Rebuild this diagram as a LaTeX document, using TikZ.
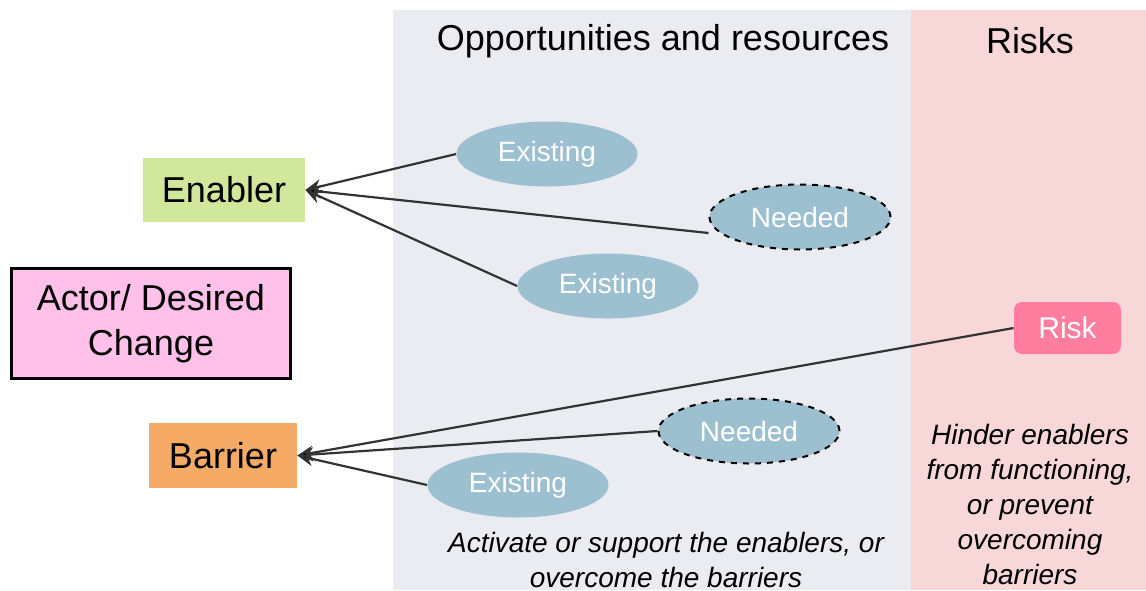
\documentclass[tikz,border=0pt]{standalone}
\usepackage{fontspec}
\setmainfont{Liberation Sans}
\usetikzlibrary{shapes, positioning, arrows, arrows.meta}

\definecolor{oppbg}{HTML}{EBECF1}
\definecolor{riskbg}{HTML}{F7D7D7}
\definecolor{enablerfill}{HTML}{D1E79B}
\definecolor{actorfill}{HTML}{FFC0EA}
\definecolor{barrierfill}{HTML}{F5AA66}
\definecolor{ovalfill}{HTML}{9DC0D1}
\definecolor{riskfill}{HTML}{FF7EA0}
\definecolor{linkgray}{HTML}{333333}

\tikzset{
	box/.style={inner sep=0pt, minimum width=81pt, minimum height=32pt, font=\fontsize{18}{22}\selectfont},
	oval/.style={ellipse, fill=ovalfill, inner sep=0pt, minimum width=90.5pt, minimum height=32.5pt, text=white, font=\fontsize{14}{17}\selectfont},
	needed/.style={oval, draw=black, dashed, line width=1pt},
	link/.style={draw=linkgray, line width=1.1pt, -{Stealth[length=8pt, width=7pt, fill=black]}},
	note/.style={align=center, font=\fontsize{14}{17.5}\selectfont\itshape}
}

\begin{document}
\begin{tikzpicture}[x=0.5pt, y=-0.5pt]
	
	\useasboundingbox (0,0) rectangle (1146,590);
	
	%//columns
	\fill[oppbg] (393,10) rectangle (911,590);
	\fill[riskbg] (911,10) rectangle (1146,590);
	
	\node [font=\fontsize{18}{21}\selectfont] (opptitle) at (663,41) {Opportunities and resources};
	\node [font=\fontsize{18}{21}\selectfont] (risktitle) at (1030,41) {Risks};
	
	%//left side
	\node [box, fill=enablerfill] (enabler) at (224,190) {Enabler};
	\node [box, fill=actorfill, draw=black, line width=1.5pt, minimum width=139.5pt, minimum height=55pt, align=center, font=\fontsize{18}{22.5}\selectfont] (actor) at (151,323.5) {\raisebox{-2pt}{Actor/ Desired}\\\raisebox{-2pt}{Change}};
	\node [box, fill=barrierfill, minimum width=74pt, minimum height=32.5pt] (barrier) at (223,455.5) {Barrier};
	
	%//opportunities
	\node [oval] (exist1) at (547,154) {Existing};
	\node [needed] (need1) at (800,217) {Needed};
	\node [oval] (exist2) at (608,286) {Existing};
	\node [needed] (need2) at (749,431) {Needed};
	\node [oval] (exist3) at (518,485) {Existing};
	
	%//risk
	\node [fill=riskfill, rounded corners=4pt, inner sep=0pt, minimum width=53.5pt, minimum height=26pt, text=white, font=\fontsize{15}{18}\selectfont] (risk) at (1067.5,328) {Risk};
	
	\foreach \n in {exist1, exist2}
	\draw [link] (\n.west) -- (enabler.east);
	\draw [link] ([yshift=-8pt]need1.west) -- (enabler.east);
	
	\foreach \n in {need2, exist3, risk}
	\draw [link] (\n.west) -- (barrier.east);
	
	%//notes
	\node [note] (oppnote) at (666,560) {Activate or support the enablers, or\\overcome the barriers};
	\node [note] (risknote) at (1030,504) {Hinder enablers\\from functioning,\\or prevent\\overcoming\\barriers};
	
\end{tikzpicture}
\end{document}
